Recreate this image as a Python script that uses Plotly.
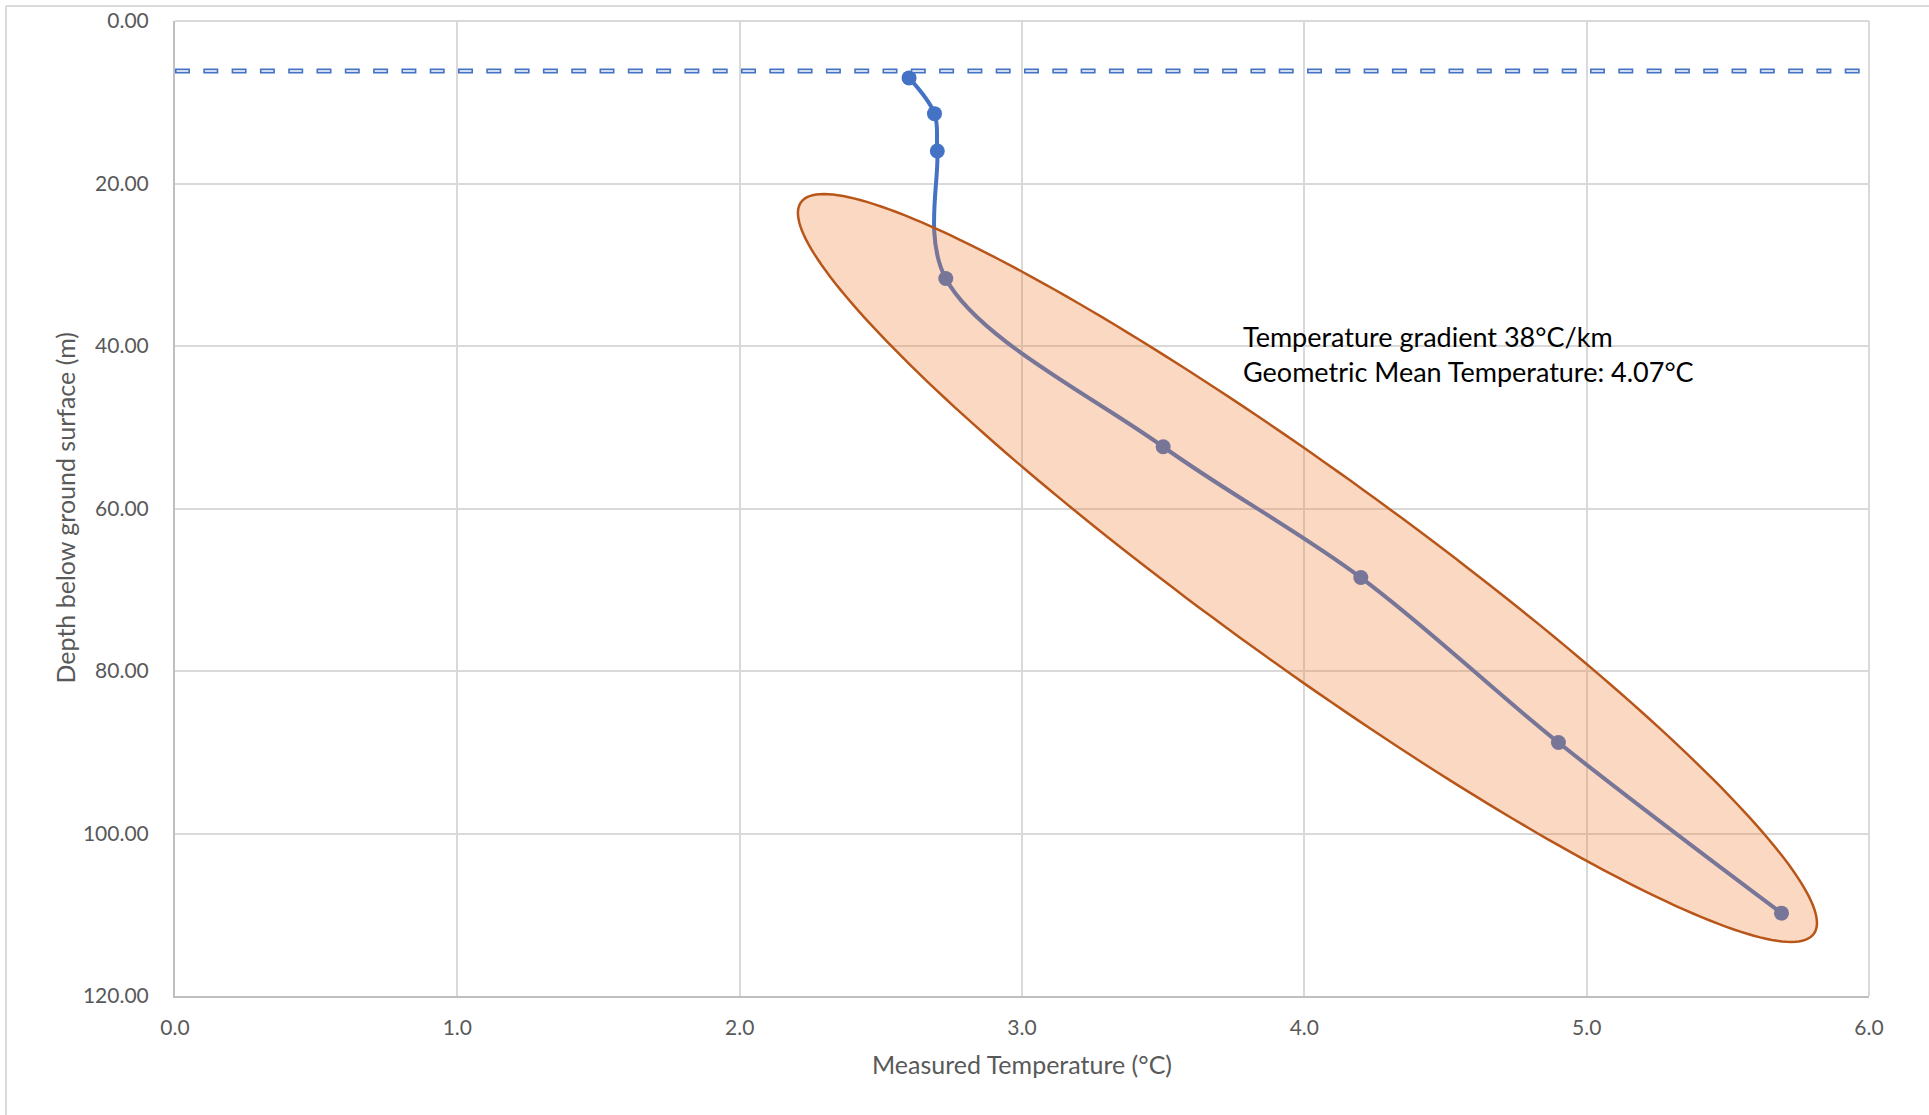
import numpy as np
import plotly.graph_objects as go

# ---- data ----
temperature = [2.60, 2.69, 2.70, 2.73, 3.50, 4.20, 4.90, 5.69]
depth = [7.0, 11.4, 16.0, 31.7, 52.4, 68.5, 88.8, 109.8]
reference_depth = 6.15
x_ticks = [0, 1, 2, 3, 4, 5, 6]
y_ticks = [0, 20, 40, 60, 80, 100, 120]
annotation_lines = ["Temperature gradient 38°C/km", "Geometric Mean Temperature: 4.07°C"]
x_title = "Measured Temperature (°C)"
y_title = "Depth below ground surface (m)"

# ---- layout geometry ----
W, H = 1929, 1115
ML, MR, MT, MB = 175, 60, 21, 119
PW, PH = W - ML - MR, H - MT - MB
XR, YR = (0, 6), (0, 120)
sx = PW / (XR[1] - XR[0])
sy = PH / (YR[1] - YR[0])

# highlight ellipse (center in data units, semi-axes in pixels)
ec_x, ec_y = 4.011, 67.32
ea, eb, eang = 624.7, 96.0, np.deg2rad(35.84)
t = np.linspace(0, 2 * np.pi, 241)
px = ea * np.cos(t) * np.cos(eang) - eb * np.sin(t) * np.sin(eang)
py = ea * np.cos(t) * np.sin(eang) + eb * np.sin(t) * np.cos(eang)
ex = ec_x + px / sx
ey = ec_y + py / sy
path = "M " + " L ".join(f"{a:.4f},{b:.4f}" for a, b in zip(ex, ey)) + " Z"

FONT = "Lato"
GRID = "#D9D9D9"

fig = go.Figure()
fig.add_trace(go.Scatter(
    x=temperature, y=depth, mode="lines+markers",
    line=dict(color="#4472C4", width=4, shape="spline", smoothing=1.0),
    marker=dict(color="#4472C4", size=15, line=dict(width=0)),
    showlegend=False, hoverinfo="x+y",
))

shapes = [
    # dashed reference line (outlined dash look)
    dict(type="line", xref="x", yref="y", x0=XR[0], x1=XR[1], y0=reference_depth, y1=reference_depth,
         line=dict(color="#4472C4", width=5, dash="15px,13.3px"), layer="above"),
    dict(type="line", xref="x", yref="y", x0=XR[0], x1=XR[1], y0=reference_depth, y1=reference_depth,
         line=dict(color="white", width=1.6, dash="0px,1.6px,11.8px,14.9px"), layer="above"),
    # ellipse highlight
    dict(type="path", xref="x", yref="y", path=path,
         fillcolor="rgba(237,125,49,0.30)", line=dict(color="#B8561A", width=2.5), layer="above"),
    # outer chart border (left & top)
    dict(type="line", xref="paper", yref="paper", x0=(6 - ML) / PW, x1=(6 - ML) / PW,
         y0=-0.3, y1=1 + (MT - 6) / PH, line=dict(color=GRID, width=2)),
    dict(type="line", xref="paper", yref="paper", x0=(6 - ML) / PW, x1=1.2,
         y0=1 + (MT - 6) / PH, y1=1 + (MT - 6) / PH, line=dict(color=GRID, width=2)),
    # top & right plot border
    dict(type="line", xref="paper", yref="paper", x0=0, x1=1, y0=1, y1=1, line=dict(color=GRID, width=2)),
    dict(type="line", xref="paper", yref="paper", x0=1, x1=1, y0=0, y1=1, line=dict(color=GRID, width=2)),
]

annotations = [
    dict(xref="x", yref="y", x=(1241 - ML) / sx, y=(354 - MT) / sy, xanchor="left", yanchor="middle",
         text="<br>".join(annotation_lines), align="left", showarrow=False,
         font=dict(family=FONT, size=27, color="black")),
    dict(xref="paper", yref="paper", x=0.5, y=0, yshift=-68, xanchor="center", yanchor="middle",
         text=x_title, showarrow=False, font=dict(family=FONT, size=25, color="#595959")),
    dict(xref="paper", yref="paper", x=0, y=0.5, xshift=-111, xanchor="center", yanchor="middle",
         text=y_title, textangle=-90, showarrow=False, font=dict(family=FONT, size=25, color="#595959")),
]

fig.update_layout(
    width=W, height=H, margin=dict(l=ML, r=MR, t=MT, b=MB, autoexpand=False),
    paper_bgcolor="white", plot_bgcolor="white",
    shapes=shapes, annotations=annotations,
    font=dict(family=FONT, color="#595959"),
)
fig.update_xaxes(range=list(XR), tickvals=x_ticks, tickformat=".1f", showgrid=True, gridcolor=GRID,
                 gridwidth=1.5, showline=True, linecolor="#BFBFBF", linewidth=2, ticks="",
                 zeroline=False, tickfont=dict(family=FONT, size=21, color="#595959"), ticklabelstandoff=12)
fig.update_yaxes(range=[YR[1], YR[0]], tickvals=y_ticks, tickformat=".2f", showgrid=True, gridcolor=GRID,
                 gridwidth=1.5, showline=True, linecolor="#BFBFBF", linewidth=2, ticks="",
                 zeroline=False, tickfont=dict(family=FONT, size=21, color="#595959"), ticklabelstandoff=20)

fig.write_html("out.html", config={"displayModeBar": False},
               post_script="document.body.style.margin='0px';")
